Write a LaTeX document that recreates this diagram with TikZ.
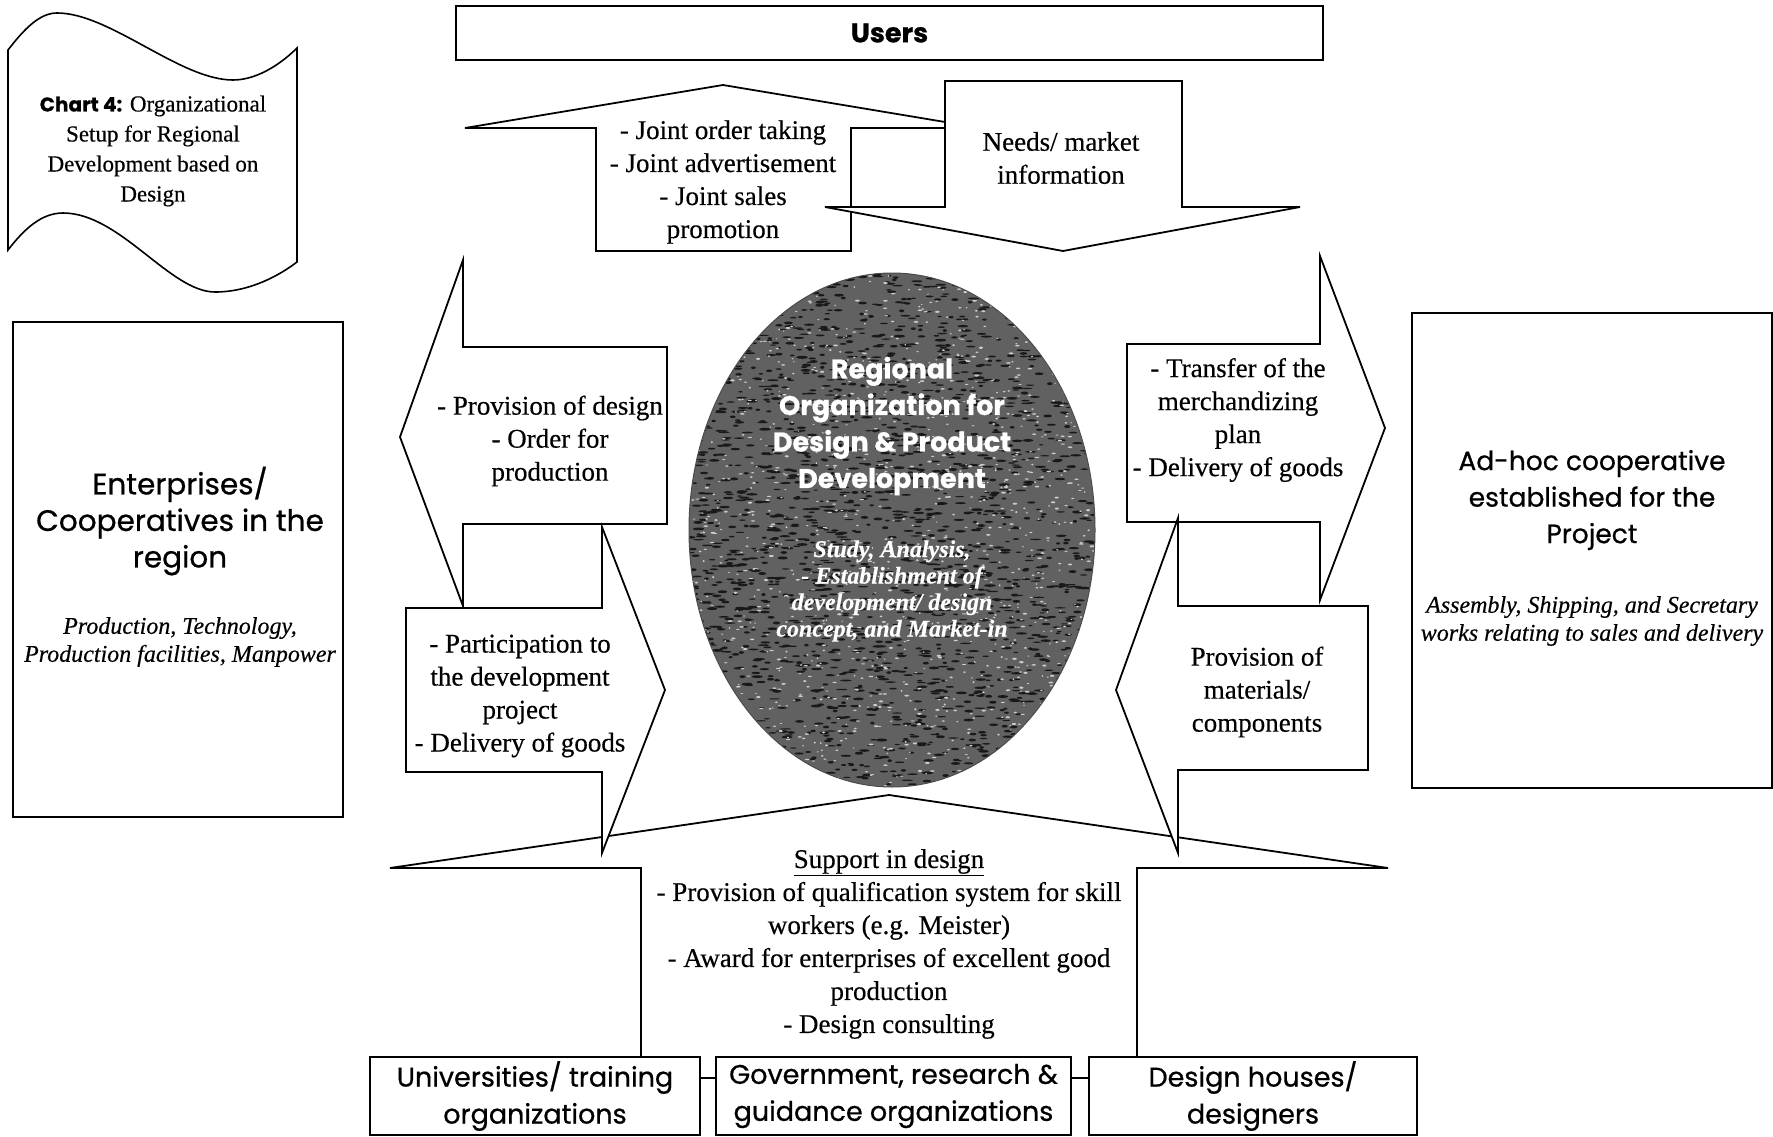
\documentclass[tikz,border=0pt]{standalone}
\usepackage{fontspec}
\setmainfont{Liberation Serif}[FakeBold=0.4]
\newfontfamily\gothic{Poppins}[FakeBold=0.7]
\usetikzlibrary{shapes.geometric}
\tikzset{
  outl/.style={draw=black, line width=1.8pt, fill=white, line join=miter},
  blk/.style={draw=black, line width=2pt, fill=white, inner sep=0pt},
  srf/.style={font=\fontsize{27}{33}\selectfont, align=center, inner sep=0pt},
  hdr/.style={font=\gothic\fontsize{28}{36.5}\selectfont, align=center, inner sep=0pt},
  itl/.style={font=\itshape\fontsize{24}{28}\selectfont, align=center, inner sep=0pt},
  bothdr/.style={font=\gothic\fontsize{27}{37}\selectfont, align=center},
}
\begin{document}
\begin{tikzpicture}[x=1pt,y=-1pt]
\useasboundingbox (0,0) rectangle (1773,1137);
\fill[white] (0,0) rectangle (1773,1137);

% banner
\draw[outl, line width=1.6pt] (8,50) .. controls (25,28) and (40,13) .. (57,13)
  .. controls (110,13) and (180,80) .. (233,80)
  .. controls (260,80) and (285,60) .. (297,48) -- (297,262)
  .. controls (280,275) and (250,292) .. (215,292)
  .. controls (170,292) and (120,213) .. (63,213)
  .. controls (42,213) and (25,228) .. (8,250) -- cycle;
\node[font=\fontsize{23}{30}\selectfont, align=center, inner sep=0pt] (chart) at (153,151)
  {{\gothic\bfseries\fontsize{20}{30}\selectfont Chart 4:} Organizational\\Setup for Regional\\Development based on\\Design};

% users
\node[blk, minimum width=867pt, minimum height=54pt, font=\gothic\bfseries\fontsize{27}{30}\selectfont] (users) at (889.5,33) {Users};

% top arrows
\draw[outl] (723,85) -- (981,128) -- (851,128) -- (851,251) -- (596,251) -- (596,128) -- (465,128) -- cycle;
\draw[outl] (945,81) -- (1182,81) -- (1182,207) -- (1300,207) -- (1063,251) -- (825,207) -- (945,207) -- cycle;
\node[srf] (joint) at (723,182) {- Joint order taking\\- Joint advertisement\\- Joint sales\\promotion};
\node[srf] (needs) at (1061,158) {Needs/ market\\information};

% bottom arrow
\fill[white] (641,1057) -- (641,868) -- (390,868) -- (889,795) -- (1388,868) -- (1137,868) -- (1137,1057) -- cycle;
\draw[line width=1.8pt, line join=miter] (641,1057) -- (641,868) -- (390,868) -- (889,795) -- (1388,868) -- (1137,868) -- (1137,1057);

% left arrows
\draw[outl] (400,437) -- (463,260) -- (463,347) -- (667,347) -- (667,524) -- (463,524) -- (463,606) -- cycle;
\draw[outl] (406,608) -- (602,608) -- (602,527) -- (665,690) -- (602,853) -- (602,772) -- (406,772) -- cycle;
\node[srf] (lu) at (550,441) {- Provision of design\\- Order for\\production};
\node[srf] (ll) at (520,696) {- Participation to\\the development\\project\\- Delivery of goods};

% right arrows
\draw[outl] (1127,344) -- (1320,344) -- (1320,256) -- (1385,428) -- (1320,600) -- (1320,522) -- (1127,522) -- cycle;
\draw[outl] (1368,606) -- (1368,770) -- (1178,770) -- (1178,853) -- (1116,690) -- (1178,518) -- (1178,606) -- cycle;
\node[srf] (ru) at (1238,420) {- Transfer of the\\merchandizing\\plan\\- Delivery of goods};
\node[srf] (rl) at (1257,692) {Provision of\\materials/\\components};

% central ellipse (textured)
\node[ellipse, minimum width=406pt, minimum height=514pt, fill=black!62, inner sep=0pt] (org) at (892,530) {};
\begin{scope}
  \clip (org.center) ellipse [x radius=203pt, y radius=257pt];
  \pgfmathsetseed{11}
  \foreach \i in {1,...,2200} {
    \pgfmathsetmacro\ax{689+406*rnd}
    \pgfmathsetmacro\ay{273+514*rnd}
    \pgfmathsetmacro\rx{2+4*rnd}
    \pgfmathsetmacro\ry{0.6+0.9*rnd}
    \fill[black!90] (\ax,\ay) ellipse [x radius=\rx pt, y radius=\ry pt];
  }
  \foreach \i in {1,...,1400} {
    \pgfmathsetmacro\ax{689+406*rnd}
    \pgfmathsetmacro\ay{273+514*rnd}
    \pgfmathsetmacro\rx{0.8+1.6*rnd}
    \pgfmathsetmacro\ry{0.5+0.6*rnd}
    \fill[white!80!black] (\ax,\ay) ellipse [x radius=\rx pt, y radius=\ry pt];
  }
\end{scope}
\draw[black!70, line width=1pt] (org.center) ellipse [x radius=203pt, y radius=257pt];
\node[font=\gothic\bfseries\fontsize{27}{36.5}\selectfont, text=white, align=center, inner sep=0pt] (orgt) at (892,426) {Regional\\Organization for\\Design \& Product\\Development};
\node[font=\bfseries\itshape\fontsize{24}{26.5}\selectfont, text=white, align=center, inner sep=0pt] (orgi) at (892,591) {Study, Analysis,\\- Establishment of\\development/ design\\concept, and Market-in};

% support text
\node[srf] (sup) at (889,944) {\underline{Support in design}\\- Provision of qualification system for skill\\workers (e.g. Meister)\\- Award for enterprises of excellent good\\production\\- Design consulting};

% side boxes
\node[blk, minimum width=330pt, minimum height=495pt] (ent) at (178,569.5) {};
\node[hdr, font=\gothic\fontsize{29.5}{36.5}\selectfont] (entt) at (180,521) {Enterprises/\\Cooperatives in the\\region};
\node[itl] (enti) at (180,642) {Production, Technology,\\Production facilities, Manpower};
\node[blk, minimum width=360pt, minimum height=475pt] (adhoc) at (1592,550.5) {};
\node[hdr, font=\gothic\fontsize{26.5}{36.5}\selectfont] (adhoct) at (1592,500) {Ad-hoc cooperative\\established for the\\Project};
\node[itl] (adhoci) at (1592,621) {Assembly, Shipping, and Secretary\\works relating to sales and delivery};

% bottom boxes
\node[blk, bothdr, minimum width=330pt, minimum height=78pt] (univ) at (535,1096) {Universities/ training\\organizations};
\node[blk, bothdr, minimum width=355pt, minimum height=78pt] (gov) at (893.5,1096) {Government, research \&\\guidance organizations};
\node[blk, bothdr, minimum width=328pt, minimum height=78pt] (des) at (1253,1096) {Design houses/\\designers};
\draw[line width=2pt] ([yshift=18pt]univ.east) -- ([yshift=18pt]gov.west);
\draw[line width=2pt] ([yshift=18pt]gov.east) -- ([yshift=18pt]des.west);
\end{tikzpicture}
\end{document}
